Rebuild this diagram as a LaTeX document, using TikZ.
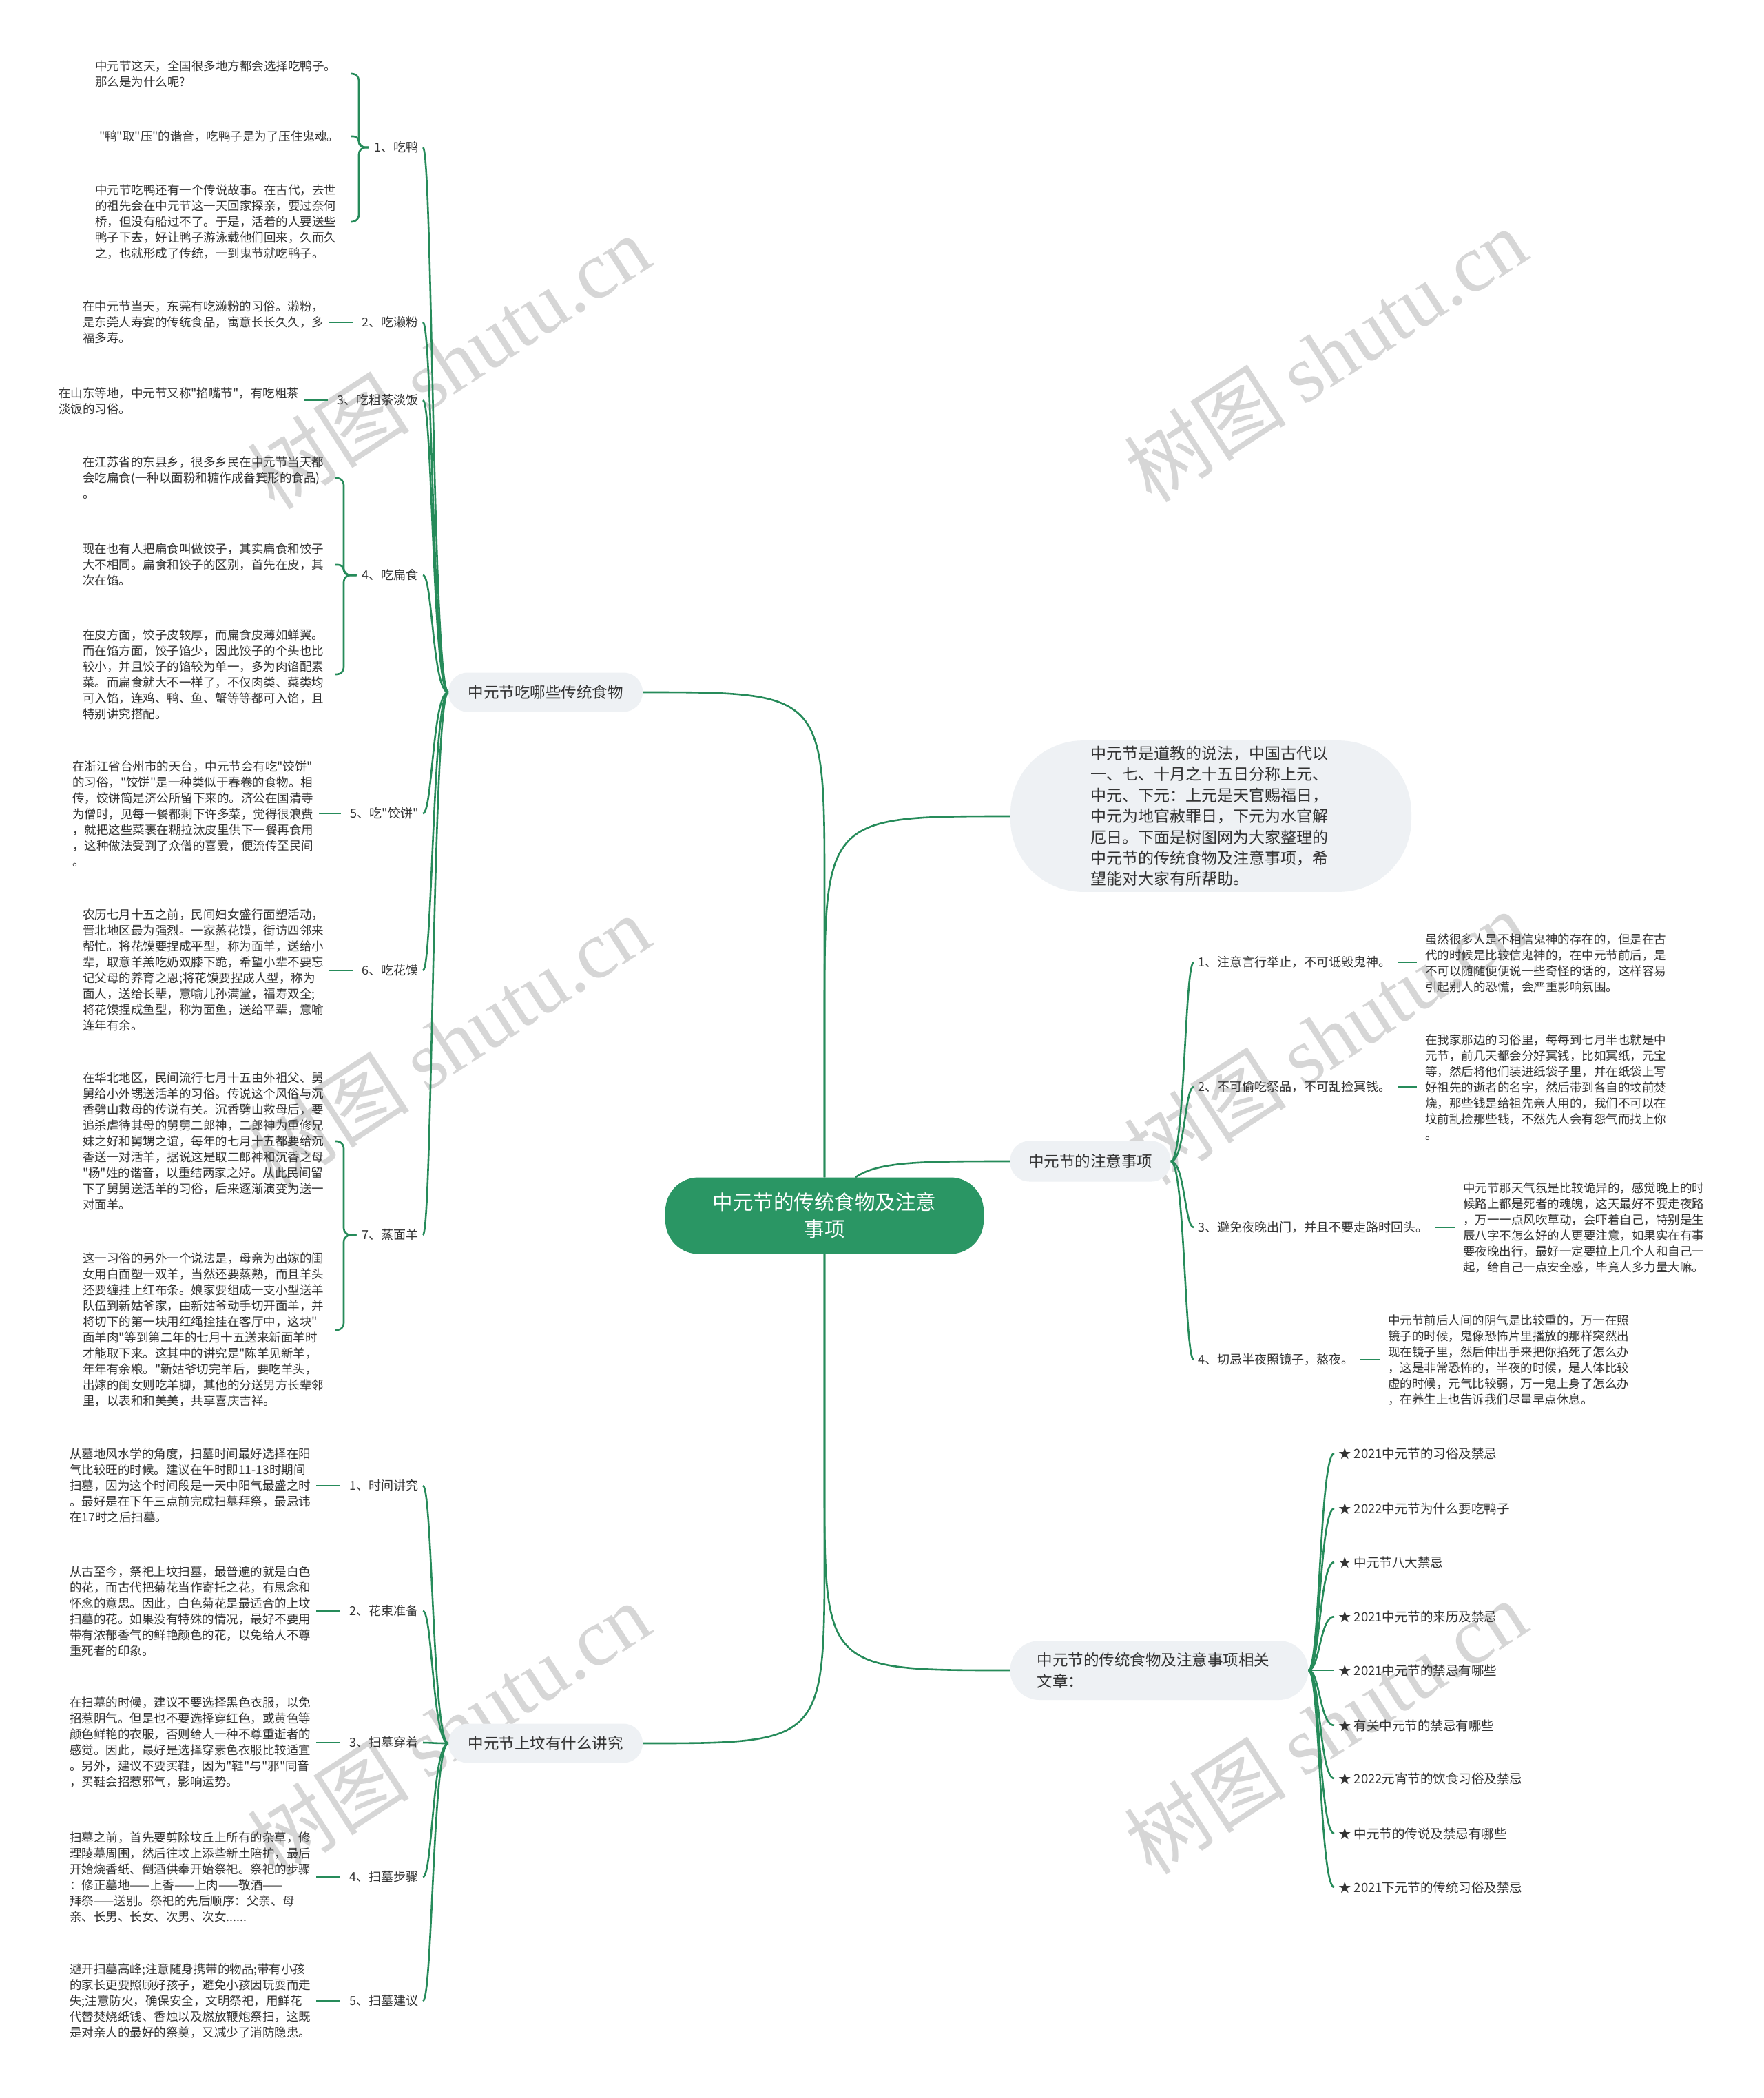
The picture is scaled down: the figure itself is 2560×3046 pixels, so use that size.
\documentclass[tikz,border=0pt]{standalone}
\usepackage{fontspec}
\setmainfont{Noto Sans CJK SC}[Ligatures=TeXOff]
\newfontfamily\wmfont{Liberation Serif}
\definecolor{edgec}{RGB}{38,139,90}
\definecolor{cfill}{RGB}{42,150,100}
\definecolor{bfill}{RGB}{238,241,244}
\definecolor{txt}{RGB}{51,51,51}
\begin{document}
\begin{tikzpicture}[x=1pt,y=-1pt,
  edge/.style={draw=edgec,line width=2.6pt},
  leaf/.style={anchor=west,align=left,inner sep=0pt,text=txt,font=\fontsize{17.5}{23}\selectfont},
  lblL/.style={anchor=east,inner sep=0pt,text=txt,font=\fontsize{18}{23}\selectfont},
  lblR/.style={anchor=west,inner sep=0pt,text=txt,font=\fontsize{18}{23}\selectfont},
  item/.style={anchor=west,inner sep=0pt,text=txt,font=\fontsize{18.5}{23}\selectfont},
  branch/.style={fill=bfill,rounded corners=28pt,minimum height=57pt,inner sep=0pt,text=txt,font=\fontsize{22.5}{30}\selectfont},
  wm/.style={rotate=33,text=black!16,font=\fontsize{118}{118}\selectfont}
]
\useasboundingbox (0,0) rectangle (2560,3046);
\fill[white] (0,0) rectangle (2560,3046);

% watermarks
\foreach \p in {(651,525),(1924,515),(651,1512),(1924,1506),(651,2510),(1924,2507)}
  \node[wm] at \p {树图 {\wmfont shutu.cn}};

% main nodes
\node[fill=cfill,rounded corners=48pt,minimum width=462pt,minimum height=111pt,inner sep=0pt,align=center,text=white,font=\fontsize{29.5}{39}\selectfont] (c) at (1197,1765) {中元节的传统食物及注意\\事项};
\node[branch,minimum width=282pt] (food) at (792,1005) {中元节吃哪些传统食物};
\node[branch,minimum width=282pt] (sf) at (792,2531) {中元节上坟有什么讲究};
\node[branch,minimum width=233pt,minimum height=59pt] (zy) at (1583,1686) {中元节的注意事项};
\node[fill=bfill,rounded corners=105pt,text width=350pt,inner xsep=116pt,inner ysep=8pt,align=left,text=txt,font=\fontsize{23}{30.4}\selectfont] (intro) at (1758,1185) {中元节是道教的说法，中国古代以\\一、七、十月之十五日分称上元、\\中元、下元：上元是天官赐福日，\\中元为地官赦罪日，下元为水官解\\厄日。下面是树图网为大家整理的\\中元节的传统食物及注意事项，希\\望能对大家有所帮助。};
\node[fill=bfill,rounded corners=43pt,text width=355pt,inner xsep=39pt,minimum height=86pt,align=left,text=txt,font=\fontsize{22.5}{31}\selectfont] (rel) at (1683,2425) {中元节的传统食物及注意事项相关\\文章：};

% food labels
\node[lblL] (f1) at (608,214) {1、吃鸭};
\node[lblL] (f2) at (608,468) {2、吃濑粉};
\node[lblL] (f3) at (608,581) {3、吃粗茶淡饭};
\node[lblL] (f4) at (608,835) {4、吃扁食};
\node[lblL] (f5) at (608,1181) {5、吃"饺饼"};
\node[lblL] (f6) at (608,1409) {6、吃花馍};
\node[lblL] (f7) at (608,1793) {7、蒸面羊};

% food leaves
\node[leaf] (a1) at (138,107) {中元节这天，全国很多地方都会选择吃鸭子。\\那么是为什么呢?};
\node[leaf] (a2) at (144,198) {"鸭"取"压"的谐音，吃鸭子是为了压住鬼魂。};
\node[leaf] (a3) at (138,322) {中元节吃鸭还有一个传说故事。在古代，去世\\的祖先会在中元节这一天回家探亲，要过奈何\\桥，但没有船过不了。于是，活着的人要送些\\鸭子下去，好让鸭子游泳载他们回来，久而久\\之，也就形成了传统，一到鬼节就吃鸭子。};
\node[leaf] (b1) at (120,468) {在中元节当天，东莞有吃濑粉的习俗。濑粉，\\是东莞人寿宴的传统食品，寓意长长久久，多\\福多寿。};
\node[leaf] (c1) at (85,582) {在山东等地，中元节又称"掐嘴节"，有吃粗茶\\淡饭的习俗。};
\node[leaf] (d1) at (120,694) {在江苏省的东县乡，很多乡民在中元节当天都\\会吃扁食(一种以面粉和糖作成畚箕形的食品)\\。};
\node[leaf] (d2) at (120,820) {现在也有人把扁食叫做饺子，其实扁食和饺子\\大不相同。扁食和饺子的区别，首先在皮，其\\次在馅。};
\node[leaf] (d3) at (120,979) {在皮方面，饺子皮较厚，而扁食皮薄如蝉翼。\\而在馅方面，饺子馅少，因此饺子的个头也比\\较小，并且饺子的馅较为单一，多为肉馅配素\\菜。而扁食就大不一样了，不仅肉类、菜类均\\可入馅，连鸡、鸭、鱼、蟹等等都可入馅，且\\特别讲究搭配。};
\node[leaf] (e1) at (105,1182) {在浙江省台州市的天台，中元节会有吃"饺饼"\\的习俗，"饺饼"是一种类似于春卷的食物。相\\传，饺饼筒是济公所留下来的。济公在国清寺\\为僧时，见每一餐都剩下许多菜，觉得很浪费\\，就把这些菜裹在糊拉汰皮里供下一餐再食用\\，这种做法受到了众僧的喜爱，便流传至民间\\。};
\node[leaf] (g0) at (120,1408) {农历七月十五之前，民间妇女盛行面塑活动，\\晋北地区最为强烈。一家蒸花馍，街访四邻来\\帮忙。将花馍要捏成平型，称为面羊，送给小\\辈，取意羊羔吃奶双膝下跪，希望小辈不要忘\\记父母的养育之恩;将花馍要捏成人型，称为\\面人，送给长辈，意喻儿孙满堂，福寿双全;\\将花馍捏成鱼型，称为面鱼，送给平辈，意喻\\连年有余。};
\node[leaf] (g1) at (120,1657) {在华北地区，民间流行七月十五由外祖父、舅\\舅给小外甥送活羊的习俗。传说这个风俗与沉\\香劈山救母的传说有关。沉香劈山救母后，要\\追杀虐待其母的舅舅二郎神，二郎神为重修兄\\妹之好和舅甥之谊，每年的七月十五都要给沉\\香送一对活羊，据说这是取二郎神和沉香之母\\"杨"姓的谐音，以重结两家之好。从此民间留\\下了舅舅送活羊的习俗，后来逐渐演变为送一\\对面羊。};
\node[leaf] (g2) at (120,1931) {这一习俗的另外一个说法是，母亲为出嫁的闺\\女用白面塑一双羊，当然还要蒸熟，而且羊头\\还要缠挂上红布条。娘家要组成一支小型送羊\\队伍到新姑爷家，由新姑爷动手切开面羊，并\\将切下的第一块用红绳拴挂在客厅中，这块"\\面羊肉"等到第二年的七月十五送来新面羊时\\才能取下来。这其中的讲究是"陈羊见新羊，\\年年有余粮。"新姑爷切完羊后，要吃羊头，\\出嫁的闺女则吃羊脚，其他的分送男方长辈邻\\里，以表和和美美，共享喜庆吉祥。};

% shangfen labels
\node[lblL] (s1) at (608,2157) {1、时间讲究};
\node[lblL] (s2) at (608,2339) {2、花束准备};
\node[lblL] (s3) at (608,2530) {3、扫墓穿着};
\node[lblL] (s4) at (608,2725) {4、扫墓步骤};
\node[lblL] (s5) at (608,2905) {5、扫墓建议};

\node[leaf] (h1) at (101,2157) {从墓地风水学的角度，扫墓时间最好选择在阳\\气比较旺的时候。建议在午时即11-13时期间\\扫墓，因为这个时间段是一天中阳气最盛之时\\。最好是在下午三点前完成扫墓拜祭，最忌讳\\在17时之后扫墓。};
\node[leaf] (h2) at (101,2339) {从古至今，祭祀上坟扫墓，最普遍的就是白色\\的花，而古代把菊花当作寄托之花，有思念和\\怀念的意思。因此，白色菊花是最适合的上坟\\扫墓的花。如果没有特殊的情况，最好不要用\\带有浓郁香气的鲜艳颜色的花，以免给人不尊\\重死者的印象。};
\node[leaf] (h3) at (101,2530) {在扫墓的时候，建议不要选择黑色衣服，以免\\招惹阴气。但是也不要选择穿红色，或黄色等\\颜色鲜艳的衣服，否则给人一种不尊重逝者的\\感觉。因此，最好是选择穿素色衣服比较适宜\\。另外，建议不要买鞋，因为"鞋"与"邪"同音\\，买鞋会招惹邪气，影响运势。};
\node[leaf] (h4) at (101,2725) {扫墓之前，首先要剪除坟丘上所有的杂草，修\\理陵墓周围，然后往坟上添些新土陪护，最后\\开始烧香纸、倒酒供奉开始祭祀。祭祀的步骤\\：修正墓地——上香——上肉——敬酒——\\拜祭——送别。祭祀的先后顺序：父亲、母\\亲、长男、长女、次男、次女......};
\node[leaf] (h5) at (101,2905) {避开扫墓高峰;注意随身携带的物品;带有小孩\\的家长更要照顾好孩子，避免小孩因玩耍而走\\失;注意防火，确保安全，文明祭祀，用鲜花\\代替焚烧纸钱、香烛以及燃放鞭炮祭扫，这既\\是对亲人的最好的祭奠，又减少了消防隐患。};

% zhuyi labels and leaves
\node[lblR] (z1) at (1739,1397) {1、注意言行举止，不可诋毁鬼神。};
\node[lblR] (z2) at (1739,1578) {2、不可偷吃祭品，不可乱捡冥钱。};
\node[lblR] (z3) at (1739,1782) {3、避免夜晚出门，并且不要走路时回头。};
\node[lblR] (z4) at (1739,1974) {4、切忌半夜照镜子，熬夜。};
\node[leaf] (y1) at (2069,1398) {虽然很多人是不相信鬼神的存在的，但是在古\\代的时候是比较信鬼神的，在中元节前后，是\\不可以随随便便说一些奇怪的话的，这样容易\\引起别人的恐慌，会严重影响氛围。};
\node[leaf] (y2) at (2069,1579) {在我家那边的习俗里，每每到七月半也就是中\\元节，前几天都会分好冥钱，比如冥纸，元宝\\等，然后将他们装进纸袋子里，并在纸袋上写\\好祖先的逝者的名字，然后带到各自的坟前焚\\烧，那些钱是给祖先亲人用的，我们不可以在\\坟前乱捡那些钱，不然先人会有怨气而找上你\\。};
\node[leaf] (y3) at (2124,1783) {中元节那天气氛是比较诡异的，感觉晚上的时\\候路上都是死者的魂魄，这天最好不要走夜路\\，万一一点风吹草动，会吓着自己，特别是生\\辰八字不怎么好的人更要注意，如果实在有事\\要夜晚出行，最好一定要拉上几个人和自己一\\起，给自己一点安全感，毕竟人多力量大嘛。};
\node[leaf] (y4) at (2015,1975) {中元节前后人间的阴气是比较重的，万一在照\\镜子的时候，鬼像恐怖片里播放的那样突然出\\现在镜子里，然后伸出手来把你掐死了怎么办\\，这是非常恐怖的，半夜的时候，是人体比较\\虚的时候，元气比较弱，万一鬼上身了怎么办\\，在养生上也告诉我们尽量早点休息。};

% related items
\node[item] (r1) at (1943,2110) {★ 2021中元节的习俗及禁忌};
\node[item] (r2) at (1943,2190) {★ 2022中元节为什么要吃鸭子};
\node[item] (r3) at (1943,2268) {★ 中元节八大禁忌};
\node[item] (r4) at (1943,2347) {★ 2021中元节的来历及禁忌};
\node[item] (r5) at (1943,2425) {★ 2021中元节的禁忌有哪些};
\node[item] (r6) at (1943,2505) {★ 有关中元节的禁忌有哪些};
\node[item] (r7) at (1943,2582) {★ 2022元宵节的饮食习俗及禁忌};
\node[item] (r8) at (1943,2662) {★ 中元节的传说及禁忌有哪些};
\node[item] (r9) at (1943,2740) {★ 2021下元节的传统习俗及禁忌};

% ---- edges from centre
\draw[edge] (c.north) -- (1197,1290) .. controls (1197,1005) and (1197,1005) .. (food.east);
\draw[edge] (c.north) -- (1197,1480) .. controls (1197,1185) and (1197,1185) .. (intro.west);
\draw[edge] ([xshift=45pt]c.north) .. controls (1275,1686) and (1340,1686) .. (zy.west);
\draw[edge] (c.south) -- (1197,2250) .. controls (1197,2531) and (1197,2531) .. (sf.east);
\draw[edge] (c.south) -- (1197,2150) .. controls (1197,2425) and (1197,2425) .. (rel.west);

% food branch to labels
\foreach \n/\y in {f1/214,f2/468,f3/581,f4/835,f5/1181,f6/1409,f7/1793}
  \draw[edge] (food.west) .. controls (628,1005) and (628,\y) .. ([xshift=6pt]\n.east);
% shangfen branch to labels
\foreach \n/\y in {s1/2157,s2/2339,s3/2530,s4/2725,s5/2905}
  \draw[edge] (sf.west) .. controls (628,2531) and (628,\y) .. ([xshift=6pt]\n.east);
% zhuyi branch to labels
\foreach \n/\y in {z1/1397,z2/1578,z3/1782,z4/1974}
  \draw[edge] (zy.east) .. controls (1720,1686) and (1720,\y) .. ([xshift=-6pt]\n.west);
% related items
\foreach \n/\y in {r1/2110,r2/2190,r3/2268,r4/2347,r5/2425,r6/2505,r7/2582,r8/2662,r9/2740}
  \draw[edge] (rel.east) .. controls (1916,2425) and (1916,\y) .. ([xshift=-6pt]\n.west);

% brackets
\draw[edge,rounded corners=10pt] ([xshift=-8pt]f1.west) -- (521,214) |- (509,107);
\draw[edge,rounded corners=8pt] ([xshift=-8pt]f1.west) -- (521,214) |- (509,198);
\draw[edge,rounded corners=10pt] ([xshift=-8pt]f1.west) -- (521,214) |- (509,322);
\draw[edge,rounded corners=10pt] ([xshift=-8pt]f4.west) -- (499,835) |- (486,694);
\draw[edge,rounded corners=8pt] ([xshift=-8pt]f4.west) -- (499,835) |- (486,820);
\draw[edge,rounded corners=10pt] ([xshift=-8pt]f4.west) -- (499,835) |- (486,979);
\draw[edge,rounded corners=10pt] ([xshift=-8pt]f7.west) -- (499,1793) |- (486,1657);
\draw[edge,rounded corners=10pt] ([xshift=-8pt]f7.west) -- (499,1793) |- (486,1931);

% single leaf connectors
\foreach \l/\t in {b1/f2,c1/f3,e1/f5,g0/f6,h1/s1,h2/s2,h3/s3,h4/s4,h5/s5}
  \draw[edge] ([xshift=8pt]\l.east |- \t.west) -- ([xshift=-14pt]\t.west);
\foreach \t/\l in {z1/y1,z2/y2,z3/y3,z4/y4}
  \draw[edge] ([xshift=10pt]\t.east) -- ([xshift=-12pt]\l.west |- \t.east);
\end{tikzpicture}
\end{document}
